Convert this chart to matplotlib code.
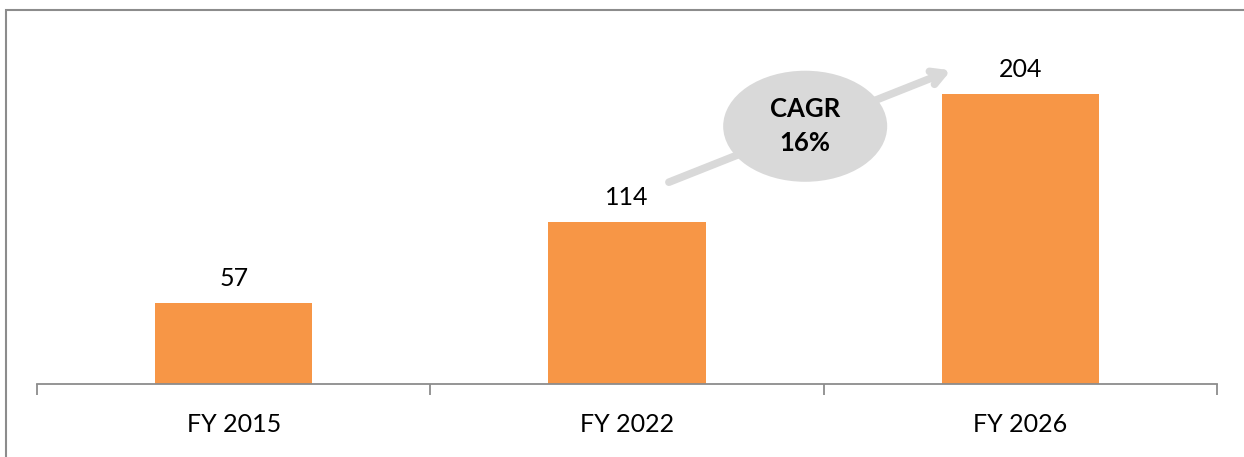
import matplotlib
matplotlib.use('Agg')
import matplotlib.pyplot as plt
import matplotlib.patches as mpatches

years = ['FY 2015', 'FY 2022', 'FY 2026']
values = [57, 114, 204]
cagr_label = 'CAGR\n16%'

plt.rcParams['font.family'] = ['Lato', 'DejaVu Sans']

fig = plt.figure(figsize=(12.44, 4.57), dpi=100)
ax = fig.add_axes([37 / 1244, 73 / 457, 1180 / 1244, 356 / 457])

x = range(len(years))
ax.bar(x, values, width=0.4, color='#F79646', zorder=2)
for xi, v in zip(x, values):
    ax.text(xi, v + 9, str(v), ha='center', va='bottom', fontsize=18, color='black')

ax.set_xlim(-0.5, len(years) - 0.5)
ax.set_ylim(0, 250)

for s in ['top', 'right', 'left']:
    ax.spines[s].set_visible(False)
ax.spines['bottom'].set_color('#8c8c8c')
ax.spines['bottom'].set_linewidth(1.3)
ax.set_yticks([])

ax.set_xticks(list(x))
ax.set_xticklabels(years, fontsize=18)
ax.tick_params(axis='x', which='major', length=0, pad=21)
ax.set_xticks([i - 0.5 for i in range(len(years) + 1)], minor=True)
ax.tick_params(axis='x', which='minor', length=8, width=1.3, color='#8c8c8c')

# CAGR arrow and bubble
ax.annotate('', xy=(1.83, 221), xytext=(1.10, 141),
            arrowprops=dict(arrowstyle='->,head_length=0.9,head_width=0.5',
                            color='#d9d9d9', lw=5.5), zorder=3)
ell = mpatches.Ellipse((1.453, 181), 0.417, 78, facecolor='#d9d9d9',
                       edgecolor='none', zorder=4)
ax.add_patch(ell)
ax.text(1.453, 181, cagr_label, ha='center', va='center', fontsize=18.5,
        fontweight='bold', linespacing=1.5, zorder=5)

# outer frame
frame = mpatches.Rectangle((6 / 1244, -0.1), 1.2, 1 - 10 / 457 + 0.1,
                           transform=fig.transFigure, fill=False,
                           edgecolor='#8c8c8c', lw=1.5)
fig.add_artist(frame)

fig.savefig('out.png', dpi=100)
